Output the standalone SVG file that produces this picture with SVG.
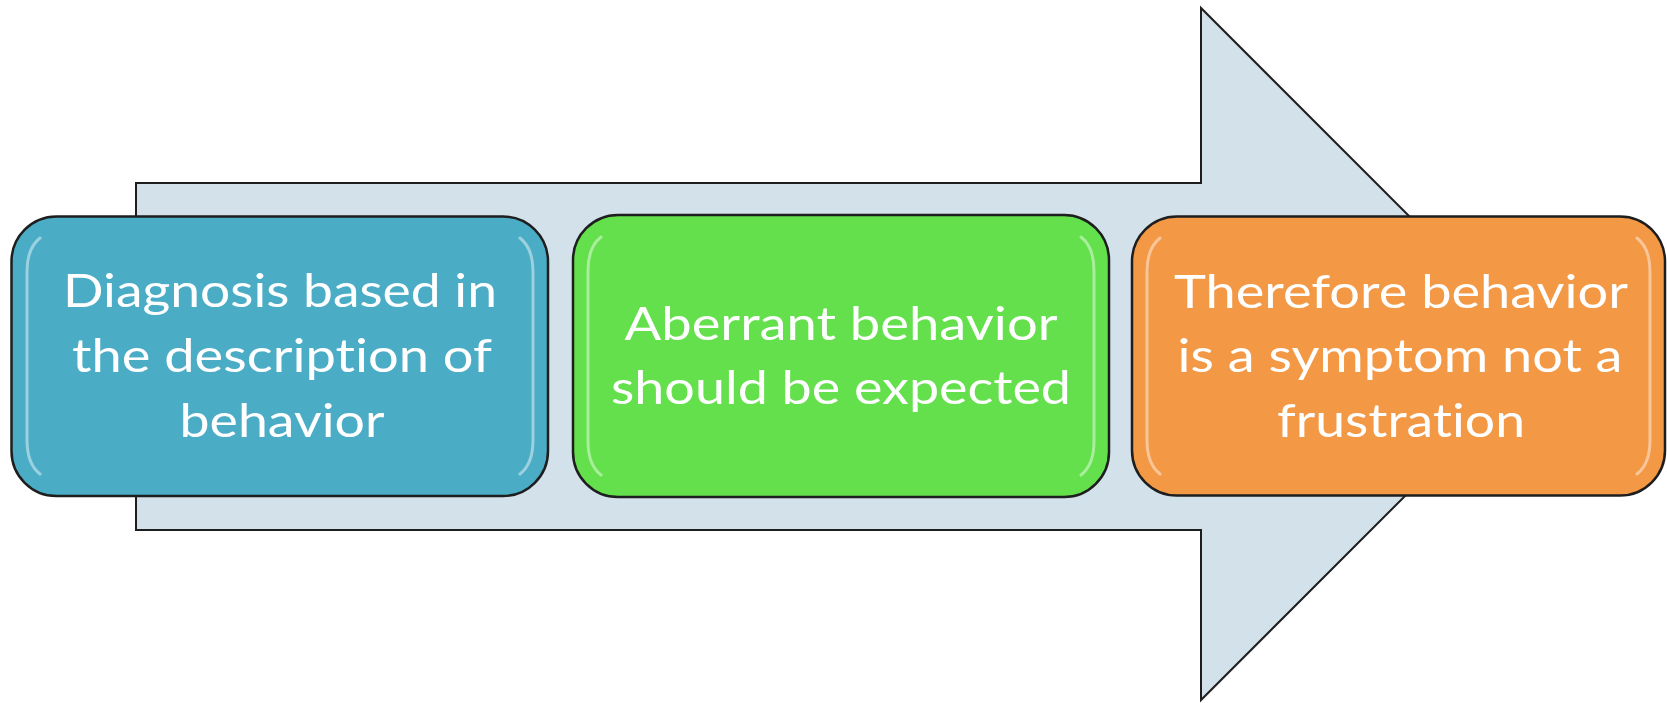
<svg xmlns="http://www.w3.org/2000/svg" width="1667" height="703" viewBox="0 0 1667 703">
<style>
.box{stroke:#1e1e1e;stroke-width:2.5}
.hl{fill:none;stroke:#ffffff;stroke-opacity:0.45;stroke-width:3;stroke-linecap:round}
.t{font-family:Lato,"Open Sans","Liberation Sans",sans-serif;font-size:47px;fill:#ffffff;text-anchor:middle;font-variant-ligatures:none;font-feature-settings:"liga" 0,"clig" 0}
</style>
<rect width="1667" height="703" fill="#ffffff"/>
<g id="connectors">
<path d="M136,183 H1201 V8 L1547,354 L1201,700 V530 H136 Z" fill="#d2e1ea" stroke="#1e1e1e" stroke-width="2"/>
</g>
<g id="node1">
<rect class="box" x="11.5" y="216.5" width="536.5" height="279.5" rx="45" fill="#4bacc6"/>
<path class="hl" d="M40,238 Q27,248 27,272 V440 Q27,464 40,474"/>
<path class="hl" d="M520,238 Q533,248 533,272 V440 Q533,464 520,474"/>
<text class="t" x="280" y="307" textLength="434" lengthAdjust="spacingAndGlyphs">Diagnosis based in</text>
<text class="t" x="282" y="372" textLength="420" lengthAdjust="spacingAndGlyphs">the description of</text>
<text class="t" x="282" y="437" textLength="205" lengthAdjust="spacingAndGlyphs">behavior</text>
</g>
<g id="node2">
<rect class="box" x="573" y="215" width="536" height="282" rx="45" fill="#63e04b"/>
<path class="hl" d="M601,237 Q588,247 588,271 V441 Q588,465 601,475"/>
<path class="hl" d="M1081,237 Q1094,247 1094,271 V441 Q1094,465 1081,475"/>
<text class="t" x="841" y="340" textLength="433" lengthAdjust="spacingAndGlyphs">Aberrant behavior</text>
<text class="t" x="841" y="404" textLength="460" lengthAdjust="spacingAndGlyphs">should be expected</text>
</g>
<g id="node3">
<rect class="box" x="1132" y="216.5" width="533" height="279" rx="45" fill="#f39845"/>
<path class="hl" d="M1160,238 Q1147,248 1147,272 V440 Q1147,464 1160,474"/>
<path class="hl" d="M1637,238 Q1650,248 1650,272 V440 Q1650,464 1637,474"/>
<text class="t" x="1401" y="308" textLength="454" lengthAdjust="spacingAndGlyphs">Therefore behavior</text>
<text class="t" x="1400" y="372" textLength="445" lengthAdjust="spacingAndGlyphs">is a symptom not a</text>
<text class="t" x="1401" y="437" textLength="248" lengthAdjust="spacingAndGlyphs">frustration</text>
</g>
</svg>
